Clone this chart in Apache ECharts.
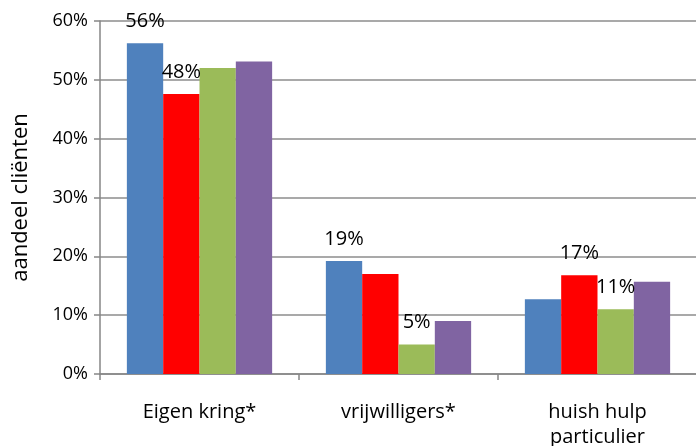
<!DOCTYPE html>
<html>
<head>
<meta charset="utf-8">
<script src="https://cdn.jsdelivr.net/npm/echarts@6/dist/echarts.min.js"></script>
<style>
  html, body { margin: 0; padding: 0; background: #fff; }
  #chart { width: 696px; height: 446px; }
</style>
</head>
<body>
<div id="chart"></div>
<script>
// aandeel cliënten per type hulp
const categories = ['Eigen kring*', 'vrijwilligers*', 'huish hulp\nparticulier']
const blueValues = [56.2, 19.2, 12.7]
const redValues = [47.6, 17.0, 16.8]
const greenValues = [52.0, 5.0, 11.0]
const purpleValues = [53.1, 9.0, 15.7]
// which bars carry a value label (by category index)
const blueLabelled = [0, 1]
const redLabelled = [0, 2]
const greenLabelled = [1, 2]
const purpleLabelled = []
const colors = ['#4F81BD', '#FF0000', '#9BBB59', '#8064A2']

const font = 'Open Sans, Liberation Sans, sans-serif'

function makeSeries(values, labelled, color) {
  return {
    type: 'bar',
    barGap: '0%',
    barCategoryGap: '27%',
    itemStyle: { color },
    data: values.map((v, i) => ({
      value: v,
      label: {
        show: labelled.includes(i),
        position: 'top',
        distance: 12,
        color: '#000',
        fontSize: 20,
        fontFamily: font,
        formatter: p => Math.round(p.value) + '%',
      },
    })),
  }
}

const chart = echarts.init(document.getElementById('chart'))
chart.setOption({
  animation: false,
  grid: { left: 100, right: -1, top: 21, bottom: 72, outerBoundsMode: 'none' },
  xAxis: {
    type: 'category',
    data: categories,
    axisLine: { lineStyle: { color: '#868686', width: 1.5 } },
    axisTick: { show: true, length: 6, lineStyle: { color: '#868686', width: 1.5 } },
    axisLabel: { color: '#000', fontSize: 20, fontFamily: font, margin: 26, lineHeight: 25 },
  },
  yAxis: {
    type: 'value',
    min: 0,
    max: 60,
    interval: 10,
    name: 'aandeel cliënten',
    nameLocation: 'middle',
    nameGap: 68,
    nameTextStyle: { color: '#000', fontSize: 22, fontFamily: font },
    axisLine: { show: true, lineStyle: { color: '#868686', width: 1.5 } },
    axisTick: { show: true, length: 6, lineStyle: { color: '#868686', width: 1.5 } },
    axisLabel: { color: '#000', fontSize: 18, fontFamily: font, margin: 12, formatter: '{value}%' },
    splitLine: { lineStyle: { color: '#8c8c8c', width: 1.5 } },
  },
  series: [
    makeSeries(blueValues, blueLabelled, colors[0]),
    makeSeries(redValues, redLabelled, colors[1]),
    makeSeries(greenValues, greenLabelled, colors[2]),
    makeSeries(purpleValues, purpleLabelled, colors[3]),
  ],
})
</script>
</body>
</html>
